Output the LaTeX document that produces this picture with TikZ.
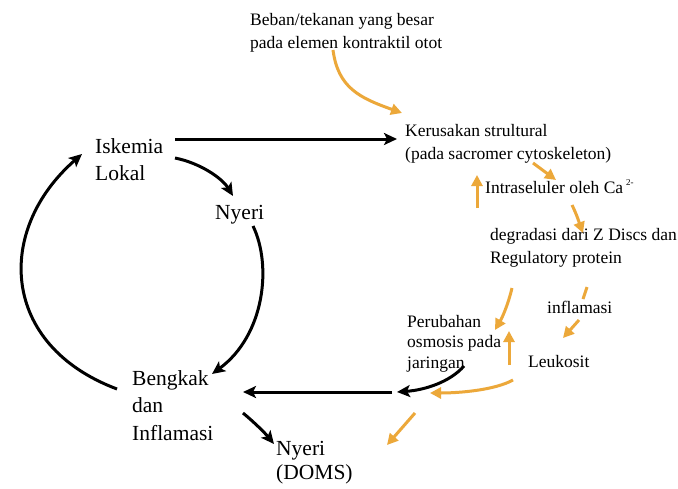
\documentclass[tikz,border=0pt]{standalone}
\usepackage{fontspec}
\setmainfont{Liberation Serif}
\usetikzlibrary{arrows.meta}
\definecolor{org}{RGB}{236,168,58}
\begin{document}
\begin{tikzpicture}[x=1pt,y=-1pt,
  bigtxt/.style={font=\fontsize{21.5}{27.5}\selectfont, inner sep=0pt, anchor=north west, align=left},
  smalltxt/.style={font=\fontsize{17.5}{23}\selectfont, inner sep=0pt, anchor=north west, align=left},
  blk/.style={draw=black, line width=3pt, -{Stealth[length=13pt,width=12pt,inset=3pt]}},
  orng/.style={draw=org, line width=3pt, -{Triangle[length=11pt,width=11pt]}, org},
  orline/.style={draw=org, line width=3pt},
]
\useasboundingbox[fill=white] (0,0) rectangle (678,488);

% texts
\node[smalltxt] (beban) at (250,13) {Beban/tekanan yang besar\\pada elemen kontraktil otot};
\node[bigtxt] (isk) at (95,138) {Iskemia\\Lokal};
\node[smalltxt] (ker) at (405,124) {Kerusakan strultural\\(pada sacromer cytoskeleton)};
\node[smalltxt] (intra) at (485,179) {Intraseluler oleh Ca\,\raisebox{1.0ex}{\fontsize{9}{9}\selectfont 2-}};
\node[bigtxt] (nyeri1) at (215,205) {Nyeri};
\node[smalltxt] (degr) at (490,228) {degradasi dari Z Discs dan\\Regulatory protein};
\node[smalltxt] (infl) at (547,301) {inflamasi};
\node[smalltxt, font=\fontsize{17.5}{20.5}\selectfont] (perub) at (407,315) {Perubahan\\osmosis pada\\jaringan};
\node[smalltxt] (leuk) at (528,355) {Leukosit};
\node[bigtxt] (beng) at (132,370) {Bengkak\\dan\\Inflamasi};
\node[bigtxt, font=\fontsize{21.5}{24}\selectfont] (nyeri2) at (276,441) {Nyeri\\(DOMS)};

% connector end points
\coordinate (a1) at (175,139); \coordinate (a2) at (397,139);
\coordinate (b1) at (175,158); \coordinate (b2) at (233,196);
\coordinate (c1) at (253,226); \coordinate (c2) at (212,374);
\coordinate (d1) at (117,389); \coordinate (d2) at (82,154);
\coordinate (e1) at (392,392); \coordinate (e2) at (243,392);
\coordinate (f1) at (464,366); \coordinate (f2) at (397,392);
\coordinate (g1) at (243,413); \coordinate (g2) at (274,444);

\coordinate (o1) at (333,50);  \coordinate (o2) at (402,113);
\coordinate (p1) at (533,163); \coordinate (p2) at (556,180);
\coordinate (q1) at (477,208); \coordinate (q2) at (477,175);
\coordinate (r1) at (572,205); \coordinate (r2) at (583,233);
\coordinate (s1) at (512,288); \coordinate (s2) at (495,330);
\coordinate (t1) at (587,287); \coordinate (t2) at (583,299);
\coordinate (t3) at (579,320); \coordinate (t4) at (563,338);
\coordinate (u1) at (509,365); \coordinate (u2) at (509,331);
\coordinate (v1) at (513,380); \coordinate (v2) at (430,393);
\coordinate (w1) at (415,413); \coordinate (w2) at (387,445);

% black connectors
\draw[blk] (a1) -- (a2);
\draw[blk] (b1) .. controls (200,163) and (222,178) .. (b2);
\draw[blk] (c1) .. controls (272,265) and (265,335) .. (c2);
\draw[blk] (d1) .. controls (0,345) and (-5,230) .. (d2);
\draw[blk] (e1) -- (e2);
\draw[blk] (f1) .. controls (450,382) and (425,390) .. (f2);
\draw[blk] (g1) .. controls (255,423) and (265,433) .. (g2);

% orange connectors
\draw[orng] (o1) .. controls (338,88) and (360,98) .. (o2);
\draw[orng] (p1) -- (p2);
\draw[orng] (q1) -- (q2);
\draw[orng] (r1) .. controls (577,215) and (580,225) .. (r2);
\draw[orng] (s1) .. controls (508,305) and (502,318) .. (s2);
\draw[orline] (t1) -- (t2);
\draw[orng] (t3) -- (t4);
\draw[orng] (u1) -- (u2);
\draw[orng] (v1) .. controls (495,390) and (460,393) .. (v2);
\draw[orng] (w1) -- (w2);
\end{tikzpicture}
\end{document}
